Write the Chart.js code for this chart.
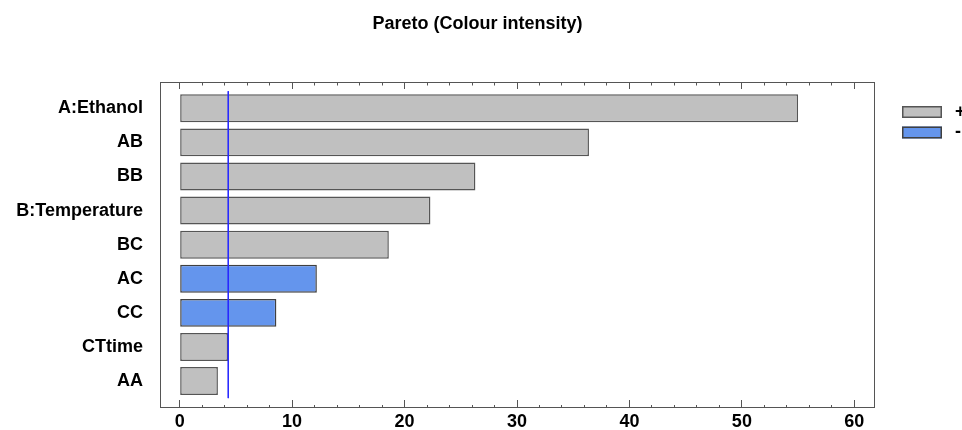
<!DOCTYPE html>
<html>
<head>
<meta charset="utf-8">
<title>Pareto (Colour intensity)</title>
<script src="https://cdn.jsdelivr.net/npm/chart.js@4/dist/chart.umd.min.js"></script>
<style>
  html, body { margin: 0; padding: 0; background: #ffffff; }
  canvas { display: block; }
</style>
</head>
<body>
<canvas id="pareto" width="962" height="430"></canvas>
<script>
// Standardized effects, largest first
const terms = ['A:Ethanol', 'AB', 'BB', 'B:Temperature', 'BC', 'AC', 'CC', 'CTtime', 'AA'];
const effects = [55.0, 36.4, 26.3, 22.3, 18.6, 12.2, 8.6, 4.3, 3.4];
const signs = ['+', '+', '+', '+', '+', '-', '-', '+', '+'];
// Critical value of the standardized effect (vertical reference line)
const criticalValue = 4.32;
// Labelled values on the effect axis
const effectTicks = [0, 10, 20, 30, 40, 50, 60];

const X_MIN = -1.75, X_MAX = 61.75;
const AXIS_COLOR = '#555555';

function pointsFor(sign) {
  const pts = [];
  terms.forEach((t, i) => { if (signs[i] === sign) pts.push({ x: effects[i], y: i }); });
  return pts;
}

// Major ticks solid, minor ticks shortened with a dash pattern
function bottomTickDash(ctx) {
  return ctx.tick && effectTicks.includes(ctx.tick.value) ? [] : [3, 100];
}
function topTickDash(ctx) {
  return ctx.tick && effectTicks.includes(ctx.tick.value) ? [] : [0, 3.5, 4, 100];
}

// Legend drawn to the right of the plot box
const signLegend = {
  id: 'signLegend',
  afterDraw(chart) {
    const { ctx, chartArea } = chart;
    const bars = chart.data.datasets.filter(d => d.type === 'bar');
    const x = chartArea.right + 28;
    let y = chartArea.top + 24;
    ctx.save();
    ctx.font = 'bold 18px "Liberation Sans", Arial, sans-serif';
    ctx.textBaseline = 'middle';
    ctx.textAlign = 'left';
    bars.forEach(ds => {
      ctx.fillStyle = ds.backgroundColor;
      ctx.fillRect(x, y, 40, 12);
      ctx.lineWidth = 1.5;
      ctx.strokeStyle = ds.borderColor;
      ctx.strokeRect(x + 0.75, y + 0.75, 38.5, 10.5);
      ctx.fillStyle = '#000000';
      ctx.fillText(ds.label, x + 53, y + 6);
      y += 20.5;
    });
    ctx.restore();
  }
};

Chart.defaults.font.family = '"Liberation Sans", Arial, sans-serif';
Chart.defaults.color = '#000000';

new Chart(document.getElementById('pareto'), {
  data: {
    datasets: [
      {
        type: 'line',
        label: 'critical',
        data: [{ x: criticalValue, y: -0.5 }, { x: criticalValue, y: terms.length - 0.5 }],
        borderColor: 'rgb(40, 40, 255)',
        borderWidth: 1,
        pointRadius: 0,
        fill: false,
        order: 0
      },
      {
        type: 'bar',
        label: '+',
        data: pointsFor('+'),
        backgroundColor: '#c0c0c0',
        borderColor: '#555555',
        borderWidth: 1.5,
        borderSkipped: false,
        grouped: false,
        barPercentage: 0.82,
        categoryPercentage: 1,
        order: 1
      },
      {
        type: 'bar',
        label: '-',
        data: pointsFor('-'),
        backgroundColor: '#6495ed',
        borderColor: '#404040',
        borderWidth: 1.5,
        borderSkipped: false,
        grouped: false,
        barPercentage: 0.82,
        categoryPercentage: 1,
        order: 1
      }
    ]
  },
  options: {
    responsive: false,
    animation: false,
    devicePixelRatio: 1,
    indexAxis: 'y',
    layout: { padding: { left: 0, right: 7, top: 0, bottom: 0 } },
    plugins: {
      legend: { display: false },
      tooltip: { enabled: false },
      title: {
        display: true,
        text: 'Pareto (Colour intensity)',
        color: '#000000',
        font: { size: 18, weight: 'bold' },
        padding: { top: 13, bottom: 47.4 }
      }
    },
    scales: {
      x: {
        type: 'linear',
        position: 'bottom',
        min: X_MIN,
        max: X_MAX,
        offset: false,
        ticks: {
          stepSize: 2,
          includeBounds: false,
          autoSkip: false,
          maxRotation: 0,
          maxTicksLimit: 100,
          padding: 11,
          color: '#000000',
          font: { size: 18, weight: 'bold' },
          callback: v => effectTicks.includes(v) ? String(v) : ''
        },
        grid: {
          drawOnChartArea: false,
          drawTicks: true,
          tickLength: -7,
          tickColor: AXIS_COLOR,
          tickBorderDash: bottomTickDash
        },
        border: { display: true, color: AXIS_COLOR, width: 1 },
        afterFit: s => { s.height = 23; }
      },
      x2: {
        type: 'linear',
        axis: 'x',
        position: 'top',
        min: X_MIN,
        max: X_MAX,
        offset: false,
        ticks: {
          display: false,
          stepSize: 2,
          includeBounds: false,
          autoSkip: false,
          maxTicksLimit: 100
        },
        grid: {
          drawOnChartArea: false,
          drawTicks: true,
          tickLength: -7,
          tickColor: AXIS_COLOR,
          tickBorderDash: topTickDash
        },
        border: { display: true, color: AXIS_COLOR, width: 1 },
        afterFit: s => { s.height = 0; }
      },
      y: {
        type: 'linear',
        position: 'left',
        reverse: true,
        min: -0.77,
        max: 8.76,
        offset: false,
        ticks: {
          stepSize: 1,
          includeBounds: false,
          autoSkip: false,
          padding: 17,
          color: '#000000',
          font: { size: 18, weight: 'bold' },
          callback: v => Number.isInteger(v) && terms[v] !== undefined ? terms[v] : ''
        },
        grid: { display: false, drawTicks: false, offset: false },
        border: { display: true, color: AXIS_COLOR, width: 1 },
        afterFit: s => { s.width = 160; s.paddingTop = 0; s.paddingBottom = 0; }
      },
      y2: {
        type: 'linear',
        axis: 'y',
        position: 'right',
        ticks: { display: false },
        grid: { display: false, drawTicks: false },
        border: { display: true, color: AXIS_COLOR, width: 1 },
        afterFit: s => { s.width = 81; s.paddingTop = 0; s.paddingBottom = 0; }
      }
    }
  },
  plugins: [signLegend]
});
</script>
</body>
</html>
